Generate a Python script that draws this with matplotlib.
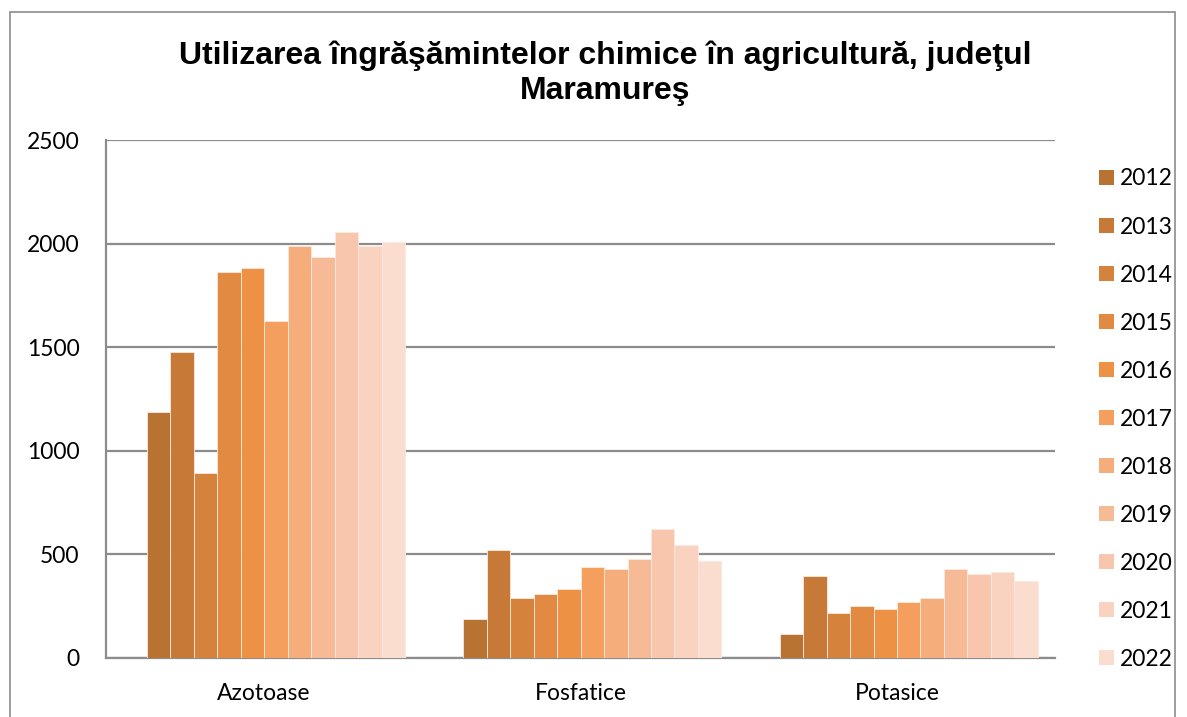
import numpy as np
import matplotlib.pyplot as plt
from matplotlib.patches import Rectangle, Patch

# data
categories = ['Azotoase', 'Fosfatice', 'Potasice']
years = ['2012', '2013', '2014', '2015', '2016', '2017', '2018', '2019', '2020', '2021', '2022']
azotoase = [1189, 1477, 893, 1865, 1881, 1625, 1988, 1937, 2054, 1990, 2008]
fosfatice = [188, 521, 291, 309, 335, 438, 431, 479, 621, 544, 470]
potasice = [116, 394, 217, 251, 236, 269, 290, 430, 405, 415, 372]
colors = ['#B87333', '#C77A38', '#D4823C', '#E28A41', '#ED9245', '#F49F5E',
          '#F5AD7C', '#F7BA97', '#F8C6AD', '#FAD3C0', '#FBDDD0']

values = np.array([azotoase, fosfatice, potasice])

fig = plt.figure(figsize=(11.87, 7.17), dpi=100)
ax = fig.add_axes([0.0893, 0.0823, 0.7995, 0.7224])

x = np.arange(len(categories))
group_w = 0.8157
bw = group_w / len(years)
shift = 0.0375  # Excel draws the clusters slightly right of the label
for i, year in enumerate(years):
    ax.bar(x + shift - group_w / 2 + bw * (i + 0.5), values[:, i], width=bw,
           color=colors[i], edgecolor='#FBE9DF', linewidth=0.6, zorder=3)

ax.set_xlim(-0.5, 2.5)
ax.set_ylim(0, 2500)
ax.set_yticks(range(0, 2501, 500))
ax.set_xticks(x)
ax.set_xticklabels(categories)
ax.yaxis.grid(True, color='#8C8C8C', linewidth=1.6, zorder=0)
ax.tick_params(axis='both', length=0, labelsize=16.5, colors='black')
ax.tick_params(axis='y', pad=19)
ax.tick_params(axis='x', pad=18)
for lab in ax.get_xticklabels() + ax.get_yticklabels():
    lab.set_family('Lato')
for s in ['top', 'right']:
    ax.spines[s].set_visible(False)
for s in ['left', 'bottom']:
    ax.spines[s].set_color('#8C8C8C')
    ax.spines[s].set_linewidth(1.6)

fig.text(605 / 1187, 1 - 73 / 717,
         'Utilizarea îngrăşămintelor chimice în agricultură, judeţul\nMaramureş',
         ha='center', va='center', fontsize=23, fontweight='bold',
         family='Liberation Sans', linespacing=1.2)

handles = [Patch(facecolor=c, edgecolor='none') for c in colors]
fig.legend(handles, years, loc='upper left', bbox_to_anchor=(1088 / 1187, 1 - 157 / 717),
           frameon=False, prop={'family': 'Lato', 'size': 16.5},
           handlelength=0.65, handleheight=0.65, handletextpad=0.25,
           labelspacing=1.18, borderpad=0)

# outer chart border
fig.patches.append(Rectangle((10 / 1187, -0.01), 1165 / 1187, 1 - 12 / 717 + 0.01,
                             transform=fig.transFigure, fill=False,
                             edgecolor='#8C8C8C', linewidth=1.2))

fig.savefig('out.png', dpi=100)
